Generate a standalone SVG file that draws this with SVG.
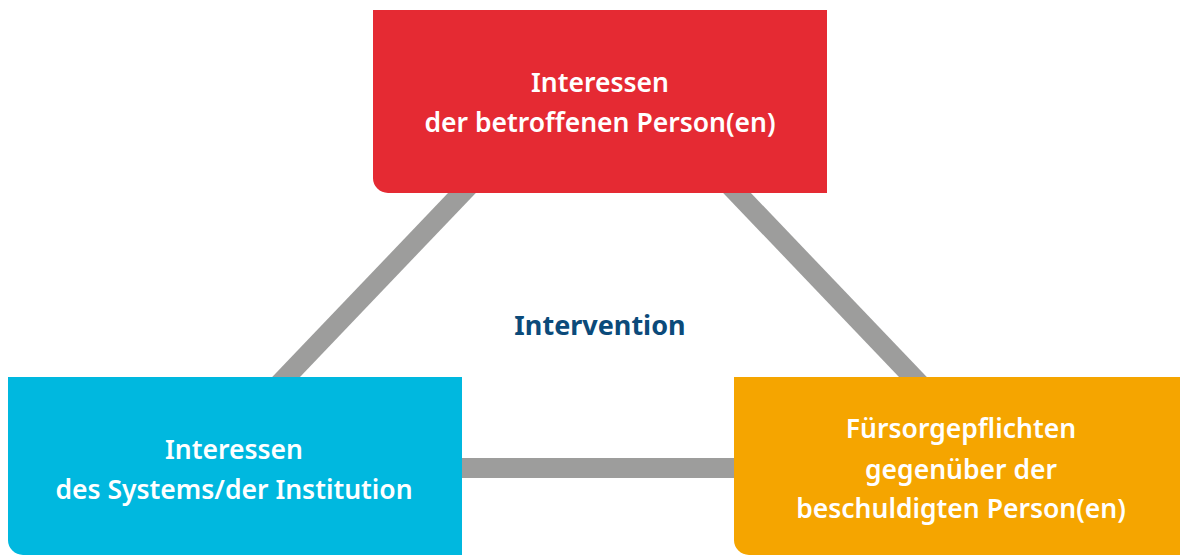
<svg xmlns="http://www.w3.org/2000/svg" width="1180" height="555" viewBox="0 0 1180 555">
<style>
.conn{stroke:#9d9d9c;stroke-width:20;fill:none}
.lbl{font-family:"Noto Sans","Open Sans",sans-serif;font-weight:600;font-size:26.5px;fill:#ffffff;text-anchor:middle}
.mid{font-family:"Noto Sans","Open Sans",sans-serif;font-weight:700;font-size:27px;fill:#0b4a7a;text-anchor:middle}
</style>
<rect width="1180" height="555" fill="#ffffff"/>
<g id="connectors">
<line class="conn" x1="481" y1="173" x2="267" y2="397"/>
<line class="conn" x1="718" y1="173" x2="932" y2="397"/>
<line class="conn" x1="440" y1="468" x2="760" y2="468"/>
</g>
<g id="node-betroffene">
<path d="M373,10 H827 V193 H388 A15,15 0 0 1 373,178 Z" fill="#e52a33"/>
<text class="lbl" x="600" y="92">Interessen</text>
<text class="lbl" x="600" y="132">der betroffenen Person(en)</text>
</g>
<g id="node-system">
<path d="M8,377 H462 V555 H23 A15,15 0 0 1 8,540 Z" fill="#00b8df"/>
<text class="lbl" x="234" y="459">Interessen</text>
<text class="lbl" x="234" y="499">des Systems/der Institution</text>
</g>
<g id="node-beschuldigte">
<path d="M734,377 H1180 V555 H749 A15,15 0 0 1 734,540 Z" fill="#f5a500"/>
<text class="lbl" x="961" y="438">Fürsorgepflichten</text>
<text class="lbl" x="961" y="479">gegenüber der</text>
<text class="lbl" x="961" y="518">beschuldigten Person(en)</text>
</g>
<g id="node-intervention">
<text class="mid" x="600" y="335">Intervention</text>
</g>
</svg>
